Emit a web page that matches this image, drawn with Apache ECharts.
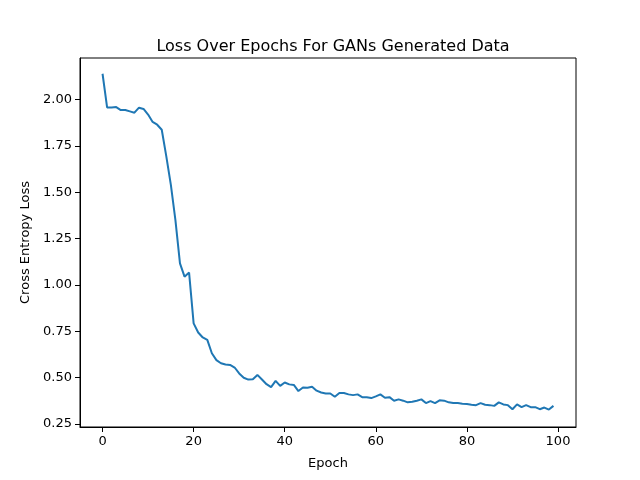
<!DOCTYPE html>
<html>
<head>
<meta charset="utf-8">
<script src="https://cdn.jsdelivr.net/npm/echarts@6/dist/echarts.min.js"></script>
<style>
    html, body { margin: 0; padding: 0; background: #fff; }
    #loss_graph { width: 640px; height: 480px; }
</style>
</head>
<body>
<div id="loss_graph"></div>
<script>
// Valores (pérdida por época)
const epochs = [];
for (let i = 0; i < 100; i++) epochs.push(i);

const lossValues = [
    2.14, 1.958, 1.958, 1.96, 1.944, 1.944, 1.937, 1.93, 1.957, 1.95,
    1.92, 1.88, 1.865, 1.838, 1.694, 1.54, 1.35, 1.117, 1.045, 1.067,
    0.793, 0.744, 0.717, 0.704, 0.632, 0.595, 0.578, 0.571, 0.569, 0.555,
    0.523, 0.50, 0.49, 0.492, 0.515, 0.49, 0.465, 0.449, 0.483, 0.456,
    0.474, 0.464, 0.461, 0.428, 0.447, 0.446, 0.451, 0.43, 0.42, 0.415,
    0.415, 0.397, 0.417, 0.417, 0.41, 0.406, 0.41, 0.395, 0.395, 0.39,
    0.399, 0.41, 0.392, 0.395, 0.376, 0.383, 0.376, 0.367, 0.37, 0.376,
    0.383, 0.363, 0.374, 0.363, 0.378, 0.376, 0.367, 0.363, 0.363, 0.36,
    0.358, 0.354, 0.352, 0.363, 0.354, 0.352, 0.348, 0.367, 0.356, 0.352,
    0.33, 0.356, 0.341, 0.352, 0.341, 0.341, 0.33, 0.339, 0.328, 0.348
];

const xTicks = [0, 20, 40, 60, 80, 100];
const yTicks = [0.25, 0.50, 0.75, 1.00, 1.25, 1.50, 1.75, 2.00];

const seriesData = epochs.map((e, i) => [e, lossValues[i]]);

const font = 'DejaVu Sans';

const option = {
    animation: false,
    title: {
        text: 'Loss Over Epochs For GANs Generated Data',
        left: 328,
        top: 34,
        textAlign: 'center',
        textStyle: {
            fontFamily: font,
            fontSize: 16,
            fontWeight: 'normal',
            color: '#000'
        }
    },
    grid: {
        left: 80,
        right: 64,
        top: 58,
        bottom: 53,
        show: true,
        borderColor: '#000',
        borderWidth: 1,
        containLabel: false
    },
    xAxis: {
        type: 'value',
        min: -4.95,
        max: 103.95,
        name: 'Epoch',
        nameLocation: 'middle',
        nameGap: 30,
        nameTextStyle: { fontFamily: font, fontSize: 13, color: '#000' },
        axisLine: { show: true, onZero: false, lineStyle: { color: '#000', width: 1 } },
        splitLine: { show: false },
        axisTick: {
            show: true,
            length: 5,
            lineStyle: { color: '#000' },
            customValues: xTicks
        },
        axisLabel: {
            fontFamily: font,
            fontSize: 13,
            color: '#000',
            margin: 8,
            customValues: xTicks
        }
    },
    yAxis: {
        type: 'value',
        min: 0.234,
        max: 2.225,
        name: 'Cross Entropy Loss',
        nameLocation: 'middle',
        nameGap: 48,
        nameTextStyle: { fontFamily: font, fontSize: 13, color: '#000' },
        axisLine: { show: true, onZero: false, lineStyle: { color: '#000', width: 1 } },
        splitLine: { show: false },
        axisTick: {
            show: true,
            length: 5,
            lineStyle: { color: '#000' },
            customValues: yTicks
        },
        axisLabel: {
            fontFamily: font,
            fontSize: 13,
            color: '#000',
            margin: 8,
            customValues: yTicks,
            formatter: function (value) {
                return value.toFixed(2);
            }
        }
    },
    series: [{
        type: 'line',
        data: seriesData,
        showSymbol: false,
        lineStyle: { color: '#1f77b4', width: 2 },
        itemStyle: { color: '#1f77b4' }
    }]
};

const myChart = echarts.init(document.getElementById('loss_graph'));
myChart.setOption(option);
window.addEventListener('resize', myChart.resize);
</script>
</body>
</html>
